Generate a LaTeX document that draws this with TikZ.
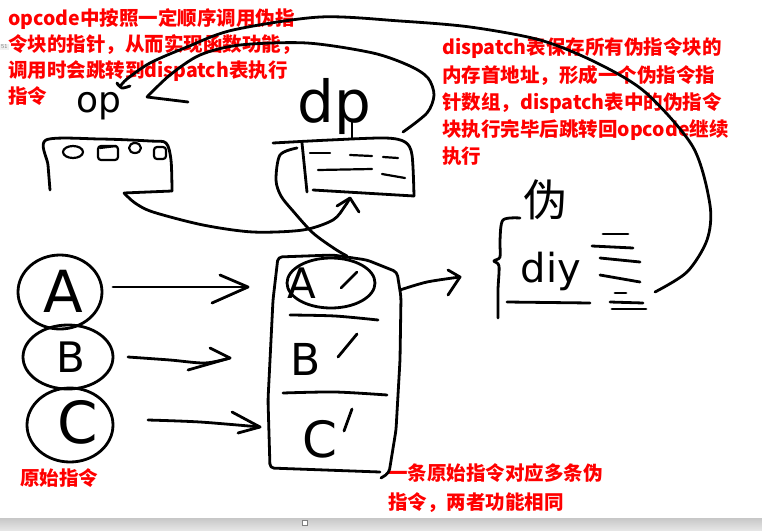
\documentclass[tikz,border=0pt]{standalone}
\usepackage{fontspec}
\usetikzlibrary{shapes.geometric}
\newfontfamily\cjk{Noto Sans CJK SC}
\newfontfamily\handfont{DejaVu Sans}
\begin{document}
\begin{tikzpicture}[x=1pt,y=-1pt,
  sk/.style={line width=2.8pt,line cap=round,line join=round},
  fine/.style={line width=2.2pt,line cap=round,line join=round},
  note/.style={text=red,font=\cjk\bfseries\fontsize{19.5}{24}\selectfont,anchor=base west,inner sep=0pt},
  letter/.style={font=\handfont\fontsize{#1}{#1}\selectfont,inner sep=0pt,anchor=base},
  ring/.style={draw,sk,ellipse,inner sep=0pt}]
\useasboundingbox (0,0) rectangle (762,530);
\fill[white] (0,0) rectangle (762,530);
% UI artefacts
\node[font=\sffamily\fontsize{6}{6}\selectfont,text=gray,fill=gray!12,anchor=west,inner sep=1pt] (ui) at (0,47) {51};
\shade[top color=black!22,bottom color=black!10] (0,518) rectangle (762,530);
\draw[gray,fill=white,line width=0.8pt] (302,520) rectangle (307,525);

% red notes
\node[note] (t1) at (8,25) {opcode中按照一定顺序调用伪指};
\node[note] (t2) at (8,51) {令块的指针，从而实现函数功能，};
\node[note] (t3) at (8,77) {调用时会跳转到dispatch表执行};
\node[note] (t4) at (8,103) {指令};
\node[note] (d1) at (442,54) {dispatch表保存所有伪指令块的};
\node[note] (d2) at (442,82) {内存首地址，形成一个伪指令指};
\node[note] (d3) at (442,109) {针数组，dispatch表中的伪指令};
\node[note] (d4) at (442,136) {块执行完毕后跳转回opcode继续};
\node[note] (d5) at (442,163) {执行};
\node[note] (o1) at (20,485) {原始指令};
\node[note] (m1) at (388,480) {一条原始指令对应多条伪};
\node[note] (m2) at (388,509) {指令，两者功能相同};

% op block
\node[letter=36] (op) at (99,112) {op};
\draw[sk] plot[smooth,tension=.5] coordinates {(50,190) (48,165) (46,140) (100,139) (150,141) (166,143) (171,160) (172,191)};
\draw[sk] (172,191) -- (124,193);
\draw[fine] (73,152) ellipse [x radius=10pt,y radius=6pt];
\draw[fine,rounded corners=3pt] (98,146) rectangle (118,160);
\draw[fine] (100,148) -- (116,146);
\draw[fine] (135,148) ellipse [x radius=6pt,y radius=5pt];
\draw[fine,rounded corners=3pt] (154,147) rectangle (166,159);

% dp block
\node[letter=58] (dp) at (334,122) {dp};
\draw[sk] plot[smooth,tension=.5] coordinates {(273,143) (330,140) (385,138) (405,142) (412,155) (414,196)};
\draw[sk] (414,196) -- (313,190);
\draw[sk] (302,143) -- (307,192);
\draw[sk] (352,122) -- (352,138);
\draw[fine] (310,153) -- (330,153);
\draw[fine] (350,155) -- (372,156);
\draw[fine] (383,157) -- (398,158);
\draw[fine] (318,170) -- (372,169);
\draw[fine] (382,174) -- (405,178);

% op -> dp curve
\coordinate (opB) at (124,193);
\coordinate (dpTip) at (350,198);
\draw[sk] plot[smooth] coordinates {(opB) (135,203) (153,212) (203,225) (253,232) (303,230) (333,220) (345,206) (dpTip)};
\draw[sk] (337,206) -- (dpTip) -- (359,212);

% dp -> op curve
\coordinate (dpR) at (403,132);
\coordinate (opTip) at (147,97);
\draw[sk] plot[smooth] coordinates {(dpR) (427,113) (434,95) (428,78) (410,66) (373,53) (307,43) (240,45) (200,55) (170,75) (opTip)};
\draw[sk] (opTip) -- (188,102);

% big return curve
\coordinate (psEnd) at (655,292);
\coordinate (opHook) at (120,86);
\draw[sk] plot[smooth] coordinates {(psEnd) (687,272) (707,240) (710,205) (693,147) (645,92) (595,62) (540,40) (470,27) (400,21) (320,17) (233,30) (187,47) (150,63) (127,79) (opHook) (117,83) (122,88) (130,86)};

% original instructions
\node[ring,minimum width=84pt,minimum height=74pt] (A) at (60,292) {};
\node[ring,minimum width=90pt,minimum height=64pt] (B) at (68,357) {};
\node[ring,minimum width=86pt,minimum height=74pt] (C) at (70,425) {};
\node[letter=58] (la) at (63,312) {A};
\node[letter=42] (lb) at (71,372) {B};
\node[letter=58] (lc) at (78,443) {C};

% pseudo block
\draw[sk,rounded corners=4pt] (380,472) -- (270,468) -- (268,400) -- (273,300) -- (278,257) -- (333,255) -- (367,260) -- (397,272) -- (401,297) -- (400,360) -- (396,430) -- (389,473) -- (381,478);
\draw[sk] plot[smooth] coordinates {(290,315) (335,316) (378,320)};
\draw[sk] plot[smooth] coordinates {(283,393) (335,392) (387,395)};
\draw[sk] (331,283) ellipse [x radius=44pt,y radius=25pt];
\node[letter=42] (pa) at (302,298) {A};
\node[letter=44] (pb) at (306,375) {B};
\node[letter=50] (pc) at (320,457) {C};
\draw[sk] (341,288) -- (357,272);
\draw[sk] (338,357) -- (357,334);
\draw[sk] (344,431) -- (352,409);

% dp -> pseudo block curve
\coordinate (dpL) at (297,148);
\coordinate (pTop) at (347,256);
\draw[sk] plot[smooth] coordinates {(dpL) (280,155) (276,180) (281,196) (293,211) (313,233) (335,249) (pTop)};

% arrows A,B,C
\coordinate (aS) at (113,287); \coordinate (aT) at (248,287);
\coordinate (bS) at (128,357); \coordinate (bT) at (230,358);
\coordinate (cS) at (148,420); \coordinate (cT) at (260,427);
\draw[sk] (aS) -- (aT);
\draw[sk] (220,275) -- (aT) -- (212,303);
\draw[sk] plot[smooth] coordinates {(bS) (170,360) (205,363) (bT)};
\draw[sk] (210,348) -- (bT) -- (188,370);
\draw[sk] plot[smooth] coordinates {(cS) (200,422) (cT)};
\draw[sk] (232,412) -- (cT) -- (238,433);
\coordinate (rS) at (400,290); \coordinate (rT) at (460,277);
\draw[sk] plot[smooth] coordinates {(rS) (427,282) (rT)};
\draw[sk] (448,270) -- (rT) -- (448,295);

% pseudo instruction sketch
\node[font=\cjk\fontsize{44}{44}\selectfont,inner sep=0pt] (wei) at (545,200) {伪};
\draw[sk] plot[smooth,tension=.5] coordinates {(520,218) (503,220) (500,240) (500,257) (494,261) (499,266) (498,290) (498,318)};
\node[letter=40] (diy) at (551,282) {diy};
\draw[sk] (507,302) -- (590,303);
\draw[sk] (603,234) -- (628,234);
\draw[sk] (592,246) -- (633,248);
\draw[sk] (600,258) -- (640,262);
\draw[sk] (600,275) -- (640,282);
\draw[sk] (615,293) -- (626,293);
\draw[sk] (610,302) -- (643,303);
\draw[sk] (612,309) -- (646,309);
\end{tikzpicture}
\end{document}
